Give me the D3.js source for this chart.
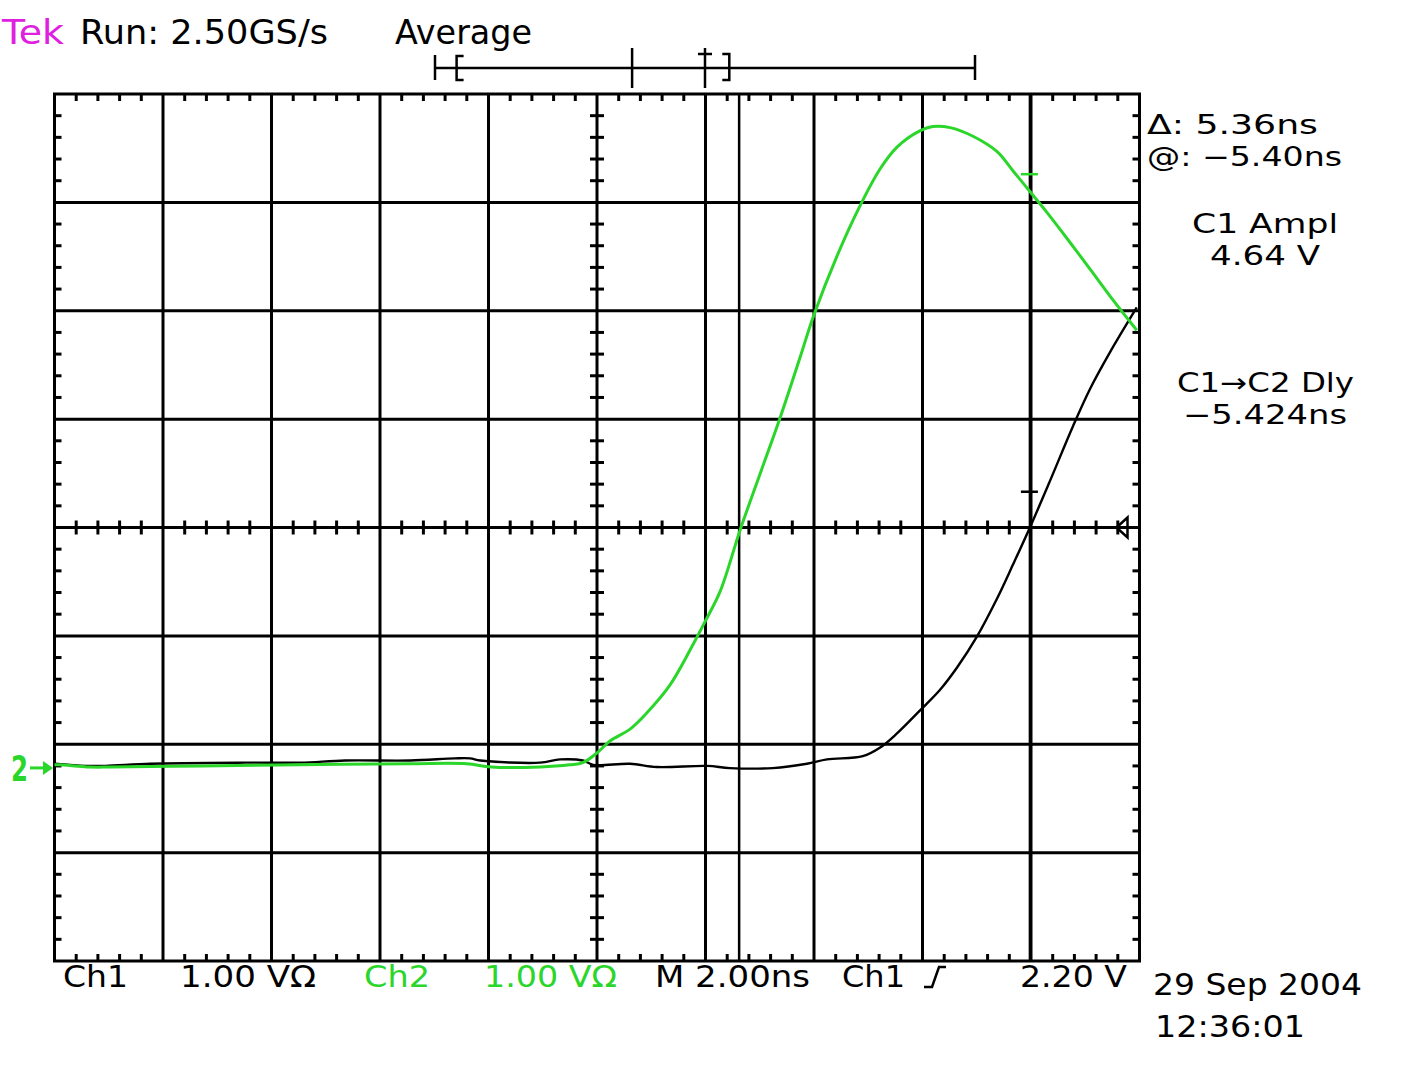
<!DOCTYPE html>
<html lang="en">
<head>
  <meta charset="UTF-8">
  <title>Tek scope capture</title>
  <script src="https://d3js.org/d3.v7.min.js"></script>
  <style>
    body {
      margin: 0;
      background: #fff;
    }
    svg {
      display: block;
      font-family: "DejaVu Sans", Verdana, sans-serif;
    }
  </style>
</head>
<body>
  <svg width="1405" height="1077"></svg>

  <script>
    // time in ns (0 = screen centre), volts above channel ground
    const ch1Time = [-10, -9.43, -9.06, -8.23, -6.48, -5.47, -4.64, -3.44, -2.62, -2.34, -2.15, -1.05, -0.68, -0.26, -0.07,
      0.61, 1.10, 2.03, 2.45, 3.24, 3.87, 4.24, 4.90, 5.22, 5.53, 5.95, 6.32, 6.64, 7.00, 7.37, 7.67, 7.98, 8.35, 8.77,
      9.09, 9.46, 9.95];
    const ch1Volt = [0.02, 0.0, 0.0, 0.02, 0.03, 0.03, 0.05, 0.05, 0.07, 0.07, 0.05, 0.03, 0.06, 0.05, 0.01,
      0.02, -0.01, 0.0, -0.02, -0.02, 0.02, 0.06, 0.09, 0.17, 0.30, 0.51, 0.70, 0.91, 1.19, 1.54, 1.86, 2.20, 2.63, 3.13,
      3.48, 3.82, 4.23];

    const ch2Time = [-10, -9.9, -9.35, -8.95, -7.3, -5.5, -3.45, -2.4, -1.95, -1.05, -0.5, -0.26, 0.0, 0.24, 0.61, 0.92, 1.35,
      1.77, 1.99, 2.27, 2.64, 3.01, 3.38, 3.75, 3.99, 4.42, 4.85, 5.22, 5.53, 5.95, 6.19, 6.51, 6.93, 7.37, 7.67, 7.98, 8.29,
      8.72, 9.14, 9.51, 9.95];
    const ch2Volt = [0.01, 0.01, -0.01, -0.01, 0.0, 0.01, 0.02, 0.02, -0.01, -0.01, 0.01, 0.03, 0.12, 0.23, 0.34, 0.49, 0.75,
      1.12, 1.33, 1.61, 2.18, 2.70, 3.22, 3.78, 4.15, 4.70, 5.17, 5.51, 5.71, 5.86, 5.90, 5.89, 5.81, 5.67, 5.49, 5.30, 5.11,
      4.83, 4.55, 4.30, 4.02];

    const cursorTimes = [2.62, 7.98];
    const markCh1 = 2.53, markCh2 = 5.46;   // measurement markers at second cursor
    const triggerLevel = 2.20;
    const groundLevel = 0;

    // record view bar above the screen (fractions of record)
    const recordBrackets = [0.04, 0.545];
    const recordTick = 0.365;
    const recordTrigger = 0.5;

    const bottomLabels = [
      { text: "Ch1", x: 63, len: 65, color: "#000" },
      { text: "1.00 VΩ", x: 180, len: 136, color: "#000" },
      { text: "Ch2", x: 364, len: 66, color: "#2bd62b" },
      { text: "1.00 VΩ", x: 484, len: 133, color: "#2bd62b" },
      { text: "M 2.00ns", x: 655, len: 155, color: "#000" },
      { text: "Ch1", x: 842, len: 63, color: "#000" },
      { text: "2.20 V", x: 1020, len: 107, color: "#000" }
    ];

    const readouts = [
      { text: "Δ: 5.36ns", x: 1147, y: 134, len: 171 },
      { text: "@: −5.40ns", x: 1147, y: 166, len: 195 },
      { text: "C1 Ampl", x: 1192, y: 233, len: 146 },
      { text: "4.64 V", x: 1210, y: 265, len: 110 },
      { text: "C1→C2 Dly", x: 1177, y: 392, len: 177 },
      { text: "−5.424ns", x: 1183, y: 424, len: 164 }
    ];

    const GREEN = "#2bd62b";
    const scrL = 54.5, scrR = 1139.5, scrT = 94, scrB = 961;

    const svg = d3.select("svg");

    const gx = d3.scaleLinear().domain([0, 10]).range([scrL, scrR]);
    const gy = d3.scaleLinear().domain([0, 8]).range([scrT, scrB]);
    const x = d3.scaleLinear().domain([-10, 10]).range([scrL, scrR]);
    const y = d3.scaleLinear().domain([-1.8, 6.2]).range([scrB, scrT]);

    // graticule
    const grid = svg.append("g").attr("stroke", "#000").attr("stroke-width", 3);
    grid.selectAll(".vg").data(d3.range(1, 10)).enter().append("line")
      .attr("x1", d => gx(d)).attr("x2", d => gx(d)).attr("y1", scrT).attr("y2", scrB);
    grid.selectAll(".hg").data(d3.range(1, 8)).enter().append("line")
      .attr("y1", d => gy(d)).attr("y2", d => gy(d)).attr("x1", scrL).attr("x2", scrR);

    const minorX = d3.range(1, 50).filter(i => i % 5 !== 0).map(i => i / 5);
    const minorY = d3.range(1, 40).filter(i => i % 5 !== 0).map(i => i / 5);
    const tk = 7;

    minorX.forEach(d => {
      const px = gx(d);
      grid.append("line").attr("x1", px).attr("x2", px).attr("y1", scrT).attr("y2", scrT + tk);
      grid.append("line").attr("x1", px).attr("x2", px).attr("y1", scrB - tk).attr("y2", scrB);
      grid.append("line").attr("x1", px).attr("x2", px).attr("y1", gy(4) - tk).attr("y2", gy(4) + tk);
    });
    minorY.forEach(d => {
      const py = gy(d);
      grid.append("line").attr("y1", py).attr("y2", py).attr("x1", scrL).attr("x2", scrL + tk);
      grid.append("line").attr("y1", py).attr("y2", py).attr("x1", scrR - tk).attr("x2", scrR);
      grid.append("line").attr("y1", py).attr("y2", py).attr("x1", gx(5) - tk).attr("x2", gx(5) + tk);
    });

    // cursors
    grid.selectAll(".cur").data(cursorTimes).enter().append("line")
      .attr("x1", d => x(d)).attr("x2", d => x(d)).attr("y1", scrT).attr("y2", scrB)
      .attr("stroke-width", 2.5);

    grid.append("rect")
      .attr("x", scrL).attr("y", scrT).attr("width", scrR - scrL).attr("height", scrB - scrT)
      .attr("fill", "none");

    // traces
    const line = d3.line().x(d => x(d[0])).y(d => y(d[1])).curve(d3.curveCatmullRom.alpha(0.5));

    svg.append("path")
      .datum(d3.zip(ch1Time, ch1Volt))
      .attr("d", line)
      .attr("fill", "none").attr("stroke", "#000").attr("stroke-width", 2.4)
      .attr("stroke-linejoin", "round");

    svg.append("path")
      .datum(d3.zip(ch2Time, ch2Volt))
      .attr("d", line)
      .attr("fill", "none").attr("stroke", GREEN).attr("stroke-width", 3)
      .attr("stroke-linejoin", "round");

    // measurement markers at second cursor
    const cx2 = x(cursorTimes[1]);
    svg.append("line").attr("x1", cx2 - 9).attr("x2", cx2 + 8)
      .attr("y1", y(markCh2)).attr("y2", y(markCh2)).attr("stroke", GREEN).attr("stroke-width", 2.5);
    svg.append("line").attr("x1", cx2 - 9).attr("x2", cx2 + 8)
      .attr("y1", y(markCh1)).attr("y2", y(markCh1)).attr("stroke", "#000").attr("stroke-width", 2.5);

    // trigger level arrow on the right
    const ty = y(triggerLevel);
    svg.append("path")
      .attr("d", `M${scrR - 12},${ty - 10} L${scrR - 23},${ty} L${scrR - 12},${ty + 10} Z M${scrR - 12},${ty} H${scrR}`)
      .attr("fill", "none").attr("stroke", "#000").attr("stroke-width", 2.5);

    // ch2 ground marker
    const gyv = y(groundLevel) + 2;
    svg.append("text").attr("x", 11).attr("y", gyv + 13)
      .attr("font-size", 36).attr("font-weight", "bold").attr("fill", GREEN)
      .attr("textLength", 17).attr("lengthAdjust", "spacingAndGlyphs")
      .text("2");
    svg.append("line").attr("x1", 30).attr("x2", 46).attr("y1", gyv).attr("y2", gyv)
      .attr("stroke", GREEN).attr("stroke-width", 3);
    svg.append("path").attr("d", `M43,${gyv - 7} L53,${gyv} L43,${gyv + 7} Z`).attr("fill", GREEN);

    // header
    const label = (txt, px, py, len, size, color) => svg.append("text")
      .attr("x", px).attr("y", py).attr("font-size", size).attr("fill", color || "#000")
      .attr("textLength", len).attr("lengthAdjust", "spacingAndGlyphs").text(txt);

    label("Tek", 2, 44, 62, 33, "#e020e0");
    label("Run: 2.50GS/s", 80, 44, 248, 33);
    label("Average", 395, 44, 137, 33);

    // record view
    const rx = d3.scaleLinear().domain([0, 1]).range([435, 975]);
    const rec = svg.append("g").attr("stroke", "#000").attr("stroke-width", 2.5).attr("fill", "none");
    rec.append("line").attr("x1", rx(0)).attr("x2", rx(1)).attr("y1", 68).attr("y2", 68);
    rec.append("line").attr("x1", rx(0)).attr("x2", rx(0)).attr("y1", 55).attr("y2", 80);
    rec.append("line").attr("x1", rx(1)).attr("x2", rx(1)).attr("y1", 55).attr("y2", 80);
    rec.append("line").attr("x1", rx(recordTick)).attr("x2", rx(recordTick)).attr("y1", 48).attr("y2", 88);
    rec.append("line").attr("x1", rx(recordTrigger)).attr("x2", rx(recordTrigger)).attr("y1", 48).attr("y2", 88);
    rec.append("line").attr("x1", rx(recordTrigger) - 7).attr("x2", rx(recordTrigger) + 7).attr("y1", 54).attr("y2", 54);
    const b0 = rx(recordBrackets[0]), b1 = rx(recordBrackets[1]);
    rec.append("path").attr("d", `M${b0 + 7},56 H${b0} V80 H${b0 + 7}`);
    rec.append("path").attr("d", `M${b1 - 7},54 H${b1} V80 H${b1 - 7}`);

    // right-hand readouts
    readouts.forEach(r => label(r.text, r.x, r.y, r.len, 27));

    // bottom status line
    bottomLabels.forEach(b => label(b.text, b.x, 987, b.len, 30, b.color));
    svg.append("path").attr("d", "M924,987 H932 L939,967 H946")
      .attr("fill", "none").attr("stroke", "#000").attr("stroke-width", 2.5);

    label("29 Sep 2004", 1153, 995, 209, 31);
    label("12:36:01", 1155, 1037, 150, 31);
  </script>
</body>
</html>
